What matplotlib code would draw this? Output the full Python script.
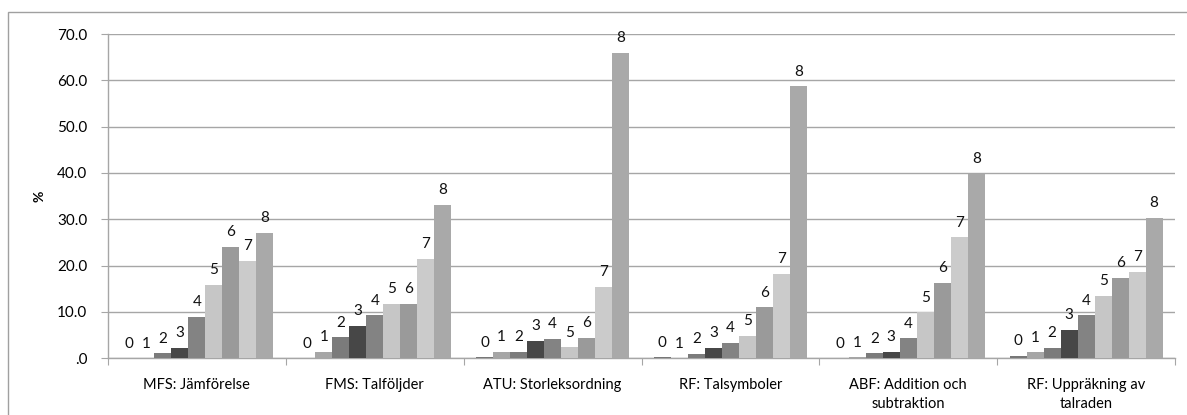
import matplotlib
matplotlib.use("Agg")
import matplotlib.pyplot as plt
from matplotlib.patches import Rectangle
import numpy as np

plt.rcParams['font.family'] = ['Lato', 'DejaVu Sans']

categories = ["MFS: Jämförelse", "FMS: Talföljder", "ATU: Storleksordning",
              "RF: Talsymboler", "ABF: Addition och\nsubtraktion",
              "RF: Uppräkning av\ntalraden"]
series_names = ["0", "1", "2", "3", "4", "5", "6", "7", "8"]

# values per series (one value per category)
s0 = [0.0, 0.0, 0.2, 0.2, 0.0, 0.5]
s1 = [0.0, 1.4, 1.4, 0.0, 0.2, 1.3]
s2 = [1.1, 4.5, 1.4, 1.0, 1.1, 2.2]
s3 = [2.3, 7.0, 3.8, 2.3, 1.4, 6.1]
s4 = [8.9, 9.3, 4.2, 3.4, 4.3, 9.3]
s5 = [15.8, 11.7, 2.4, 4.8, 9.9, 13.5]
s6 = [24.0, 11.7, 4.4, 11.0, 16.3, 17.4]
s7 = [21.0, 21.5, 15.4, 18.3, 26.1, 18.6]
s8 = [27.1, 33.1, 66.0, 58.7, 39.8, 30.3]
series = [s0, s1, s2, s3, s4, s5, s6, s7, s8]

colors = ["#777777", "#a6a6a6", "#7b7b7b", "#474747", "#838383",
          "#c6c6c6", "#9a9a9a", "#cbcbcb", "#a9a9a9"]

fig = plt.figure(figsize=(11.87, 4.15), dpi=100)
W, H = 1187, 415
ax = fig.add_axes([108 / W, 1 - 358.3 / H, (1175 - 108) / W, (358.3 - 34) / H])

n = len(categories)
x = np.arange(n) + 0.5
w = 0.0956
for j, (vals, c) in enumerate(zip(series, colors)):
    pos = x + (j - 4) * w
    ax.bar(pos, vals, width=w, color=c, edgecolor='none', zorder=3)
    for p, v in zip(pos, vals):
        ax.annotate(series_names[j], (p, v), xytext=(0, 5.5), textcoords='offset points',
                    ha='center', va='bottom', fontsize=11, color='#111111')

ax.set_xlim(0, n)
ax.set_ylim(0, 70)
ax.set_yticks(np.arange(0, 71, 10))
ax.set_yticklabels([".0"] + [f"{v:.1f}" for v in range(10, 71, 10)], fontsize=11)
ax.yaxis.grid(True, color='#a6a6a6', linewidth=1, zorder=0)
ax.set_axisbelow(True)

ax.set_xticks(np.arange(0, n + 1))
ax.set_xticklabels([])
ax.set_xticks(x, minor=True)
ax.set_xticklabels(categories, minor=True, fontsize=10.5, linespacing=1.45)
ax.tick_params(axis='x', which='minor', length=0, pad=14)
ax.tick_params(axis='x', which='major', length=5, color='#a6a6a6', direction='out')
ax.tick_params(axis='y', length=5, color='#a6a6a6', direction='out', pad=10)

for side in ['top', 'right']:
    ax.spines[side].set_visible(False)
for side in ['left', 'bottom']:
    ax.spines[side].set_color('#a6a6a6')
    ax.spines[side].set_linewidth(1)

ax.set_ylabel('%', fontsize=10, fontweight='bold', labelpad=8)

fig.patches.append(Rectangle((8 / W, -0.1), 1.2, 1 - 12 / H + 0.1, transform=fig.transFigure,
                             fill=False, edgecolor='#a0a0a0', linewidth=1))

fig.savefig('out.png', dpi=100)
